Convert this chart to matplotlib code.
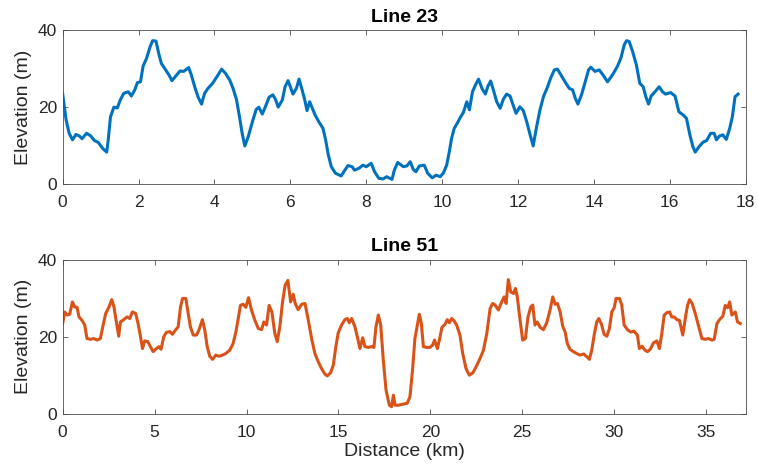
import matplotlib.pyplot as plt
import matplotlib as mpl

mpl.rcParams["font.family"] = ["Liberation Sans", "DejaVu Sans"]

# Line 23 profile
d23 = [0.00, 0.09, 0.17, 0.26, 0.35, 0.44, 0.51, 0.63, 0.74, 0.84, 0.94, 1.05, 1.16, 1.20,
       1.26, 1.35, 1.44, 1.52, 1.61, 1.73, 1.81, 1.90, 1.97, 2.05, 2.12, 2.21, 2.30, 2.37,
       2.46, 2.53, 2.60, 2.70, 2.80, 2.88, 2.98, 3.09, 3.19, 3.32, 3.39, 3.48, 3.57, 3.66,
       3.74, 3.83, 3.95, 4.07, 4.19, 4.29, 4.40, 4.49, 4.58, 4.66, 4.73, 4.80, 4.89, 5.00,
       5.10, 5.17, 5.26, 5.35, 5.44, 5.54, 5.61, 5.68, 5.79, 5.86, 5.94, 6.00, 6.07, 6.16,
       6.23, 6.31, 6.38, 6.44, 6.51, 6.58, 6.65, 6.75, 6.86, 6.93, 7.00, 7.08, 7.19, 7.34,
       7.43, 7.52, 7.63, 7.69, 7.81, 7.91, 8.00, 8.13, 8.22, 8.33, 8.44, 8.54, 8.68, 8.74,
       8.83, 8.98, 9.07, 9.16, 9.24, 9.31, 9.40, 9.53, 9.62, 9.74, 9.84, 9.95, 10.03, 10.12,
       10.19, 10.25, 10.32, 10.41, 10.49, 10.56, 10.65, 10.72, 10.80, 10.88, 10.96, 11.05,
       11.14, 11.21, 11.28, 11.35, 11.44, 11.53, 11.61, 11.70, 11.79, 11.88, 11.95, 12.05,
       12.14, 12.23, 12.32, 12.40, 12.49, 12.58, 12.67, 12.78, 12.87, 12.96, 13.04, 13.13,
       13.24, 13.35, 13.44, 13.51, 13.58, 13.68, 13.77, 13.86, 13.92, 14.03, 14.14, 14.24,
       14.36, 14.49, 14.62, 14.71, 14.80, 14.86, 14.93, 15.02, 15.12, 15.21, 15.30, 15.37,
       15.44, 15.51, 15.61, 15.72, 15.81, 15.89, 16.02, 16.14, 16.24, 16.35, 16.44, 16.53,
       16.61, 16.67, 16.77, 16.88, 16.97, 17.08, 17.17, 17.23, 17.31, 17.40, 17.49, 17.58,
       17.65, 17.72, 17.80]
e23 = [23.4, 16.7, 13.2, 11.5, 12.9, 12.5, 11.8, 13.2, 12.5, 11.3, 10.8, 9.3, 8.3, 11.5,
       17.5, 20.0, 19.8, 21.9, 23.6, 24.0, 22.9, 24.5, 26.4, 26.6, 30.7, 32.7, 35.6, 37.3,
       37.2, 34.0, 31.4, 29.9, 28.4, 26.9, 28.1, 29.4, 29.3, 30.3, 28.4, 25.3, 22.6, 20.8,
       23.6, 24.9, 26.2, 28.0, 29.9, 28.8, 27.1, 24.9, 22.0, 17.5, 13.2, 9.9, 12.3, 16.2,
       19.4, 20.0, 18.2, 20.3, 22.6, 23.2, 22.0, 20.0, 21.9, 25.3, 26.9, 25.3, 23.4, 24.9,
       27.3, 24.5, 21.9, 19.1, 21.4, 19.7, 18.0, 16.2, 14.5, 11.5, 7.6, 4.5, 2.8, 2.1,
       3.5, 4.8, 4.5, 3.6, 4.1, 4.9, 4.5, 5.4, 3.2, 1.5, 1.3, 1.9, 1.2, 3.6,
       5.6, 4.5, 4.7, 5.8, 3.8, 3.2, 4.7, 4.9, 2.8, 1.6, 2.3, 1.9, 2.8, 4.9,
       8.4, 11.9, 14.5, 16.0, 17.5, 18.6, 21.4, 19.3, 24.0, 25.8, 27.3, 24.9,
       23.4, 25.5, 26.8, 24.5, 21.4, 19.7, 22.0, 23.4, 22.9, 20.3, 18.4, 20.1,
       19.1, 16.2, 12.8, 9.9, 14.9, 19.3, 22.7, 25.3, 27.8, 29.7, 29.9, 28.4,
       26.6, 24.9, 24.5, 22.3, 20.8, 23.4, 26.6, 29.7, 30.4, 29.3, 29.7, 28.4,
       26.6, 28.4, 30.6, 32.7, 36.2, 37.3, 37.1, 34.5, 31.0, 26.2, 25.3, 22.7,
       20.8, 22.9, 24.0, 25.3, 24.0, 23.4, 23.8, 22.9, 18.8, 18.0, 17.1, 12.8,
       9.7, 8.3, 9.7, 10.9, 11.3, 13.2, 13.2, 11.5, 12.5, 12.8, 11.6, 14.5,
       17.5, 22.7, 23.4]

# Line 51 profile
d51 = [0.00, 0.11, 0.24, 0.38, 0.53, 0.65, 0.78, 0.89, 1.07, 1.20, 1.32, 1.51, 1.69, 1.87,
       2.05, 2.20, 2.34, 2.52, 2.67, 2.79, 2.92, 3.05, 3.14, 3.32, 3.50, 3.65, 3.79, 3.97,
       4.10, 4.23, 4.34, 4.46, 4.63, 4.77, 4.92, 5.10, 5.24, 5.35, 5.50, 5.64, 5.83, 5.97,
       6.15, 6.28, 6.41, 6.52, 6.70, 6.84, 6.95, 7.10, 7.28, 7.42, 7.60, 7.73, 7.86, 8.00,
       8.15, 8.33, 8.51, 8.69, 8.87, 9.09, 9.27, 9.42, 9.55, 9.67, 9.82, 9.96, 10.11, 10.27,
       10.45, 10.64, 10.82, 10.94, 11.09, 11.23, 11.38, 11.54, 11.67, 11.81, 11.96, 12.10,
       12.25, 12.40, 12.54, 12.65, 12.81, 13.00, 13.18, 13.36, 13.54, 13.72, 13.90, 14.08,
       14.26, 14.39, 14.57, 14.72, 14.86, 14.99, 15.17, 15.35, 15.48, 15.59, 15.72, 15.90,
       16.03, 16.17, 16.32, 16.44, 16.62, 16.81, 16.93, 17.04, 17.17, 17.30, 17.44, 17.59,
       17.77, 17.89, 17.99, 18.08, 18.26, 18.53, 18.74, 18.89, 19.03, 19.16, 19.29, 19.40,
       19.51, 19.62, 19.80, 19.98, 20.12, 20.23, 20.38, 20.49, 20.63, 20.80, 20.92, 21.03,
       21.16, 21.29, 21.43, 21.61, 21.76, 21.94, 22.12, 22.31, 22.49, 22.70, 22.89, 23.07,
       23.25, 23.39, 23.52, 23.70, 23.88, 24.01, 24.12, 24.24, 24.37, 24.52, 24.63, 24.73,
       24.88, 25.02, 25.17, 25.31, 25.46, 25.57, 25.69, 25.82, 25.97, 26.15, 26.33, 26.51,
       26.66, 26.79, 26.91, 27.06, 27.20, 27.33, 27.45, 27.60, 27.78, 27.96, 28.14, 28.33,
       28.51, 28.65, 28.78, 28.91, 29.05, 29.16, 29.31, 29.45, 29.60, 29.74, 29.87, 30.00,
       30.10, 30.29, 30.41, 30.54, 30.72, 30.90, 31.08, 31.26, 31.37, 31.52, 31.67, 31.81,
       31.96, 32.14, 32.32, 32.46, 32.59, 32.72, 32.86, 33.01, 33.13, 33.26, 33.41, 33.55,
       33.73, 33.88, 33.99, 34.10, 34.24, 34.41, 34.59, 34.77, 34.95, 35.13, 35.32, 35.44,
       35.59, 35.73, 35.91, 36.04, 36.17, 36.28, 36.40, 36.59, 36.71, 36.86]
e51 = [23.4, 26.4, 25.6, 25.8, 29.0, 27.7, 27.6, 25.1, 24.1, 23.0, 19.5, 19.3, 19.5, 19.1,
       19.5, 23.0, 26.0, 27.7, 29.6, 27.7, 23.8, 20.1, 23.8, 24.4, 25.1, 24.7, 26.4, 26.0,
       23.4, 20.1, 16.9, 18.9, 18.7, 17.4, 16.1, 16.9, 17.4, 16.7, 20.0, 21.1, 21.3, 20.6,
       21.8, 22.5, 27.7, 29.9, 29.9, 25.6, 22.5, 20.4, 20.4, 21.8, 24.4, 21.7, 17.4, 14.9,
       14.1, 15.2, 14.9, 15.2, 15.6, 16.5, 18.2, 21.2, 24.7, 28.1, 28.4, 27.6, 30.1, 26.9,
       24.3, 22.1, 21.8, 23.8, 23.0, 28.1, 26.4, 20.8, 18.7, 22.5, 29.0, 33.3,
       34.6, 29.0, 31.0, 28.6, 27.0, 28.4, 28.6, 24.3, 19.5, 15.6, 13.5, 11.7,
       10.3, 9.8, 10.6, 12.6, 17.4, 21.0, 23.0, 24.4, 24.7, 23.6, 24.7, 22.5,
       19.9, 16.9, 19.7, 17.4, 17.2, 17.4, 17.2, 22.5, 25.6, 23.0, 13.9, 6.1,
       2.2, 1.8, 4.8, 2.2, 2.2, 2.5, 2.7, 4.4, 11.3, 19.5, 23.0, 25.8,
       23.4, 17.4, 17.2, 17.2, 17.8, 19.1, 16.9, 19.1, 22.4, 23.2, 24.4, 23.6,
       24.7, 24.1, 23.0, 20.4, 15.6, 11.7, 10.0, 10.6, 12.2, 14.3, 16.5, 20.8,
       27.3, 28.6, 28.2, 26.9, 29.0, 30.3, 28.6, 34.8, 31.6, 31.2, 32.5, 30.3,
       24.3, 19.1, 19.5, 25.1, 27.7, 28.2, 23.0, 23.8, 22.4, 21.8, 23.6, 26.9,
       30.3, 28.4, 28.6, 26.4, 22.7, 21.2, 18.2, 16.7, 16.1, 15.6, 15.2, 15.5,
       14.8, 14.1, 16.5, 20.4, 23.8, 24.7, 23.2, 20.6, 20.1, 22.1, 26.4, 27.5,
       29.9, 29.9, 28.2, 23.0, 21.8, 21.2, 21.4, 20.4, 16.9, 17.5, 16.5, 16.1,
       16.7, 18.4, 18.9, 16.9, 20.8, 25.6, 26.2, 26.4, 25.1, 25.1, 24.4, 24.2,
       20.4, 25.1, 28.1, 29.6, 28.6, 26.0, 22.7, 19.5, 19.3, 19.5, 19.1, 19.3,
       23.4, 24.4, 25.3, 28.1, 27.5, 29.0, 25.6, 26.4, 23.8, 23.4]

fig = plt.figure(figsize=(7.58, 4.70), dpi=100)
ax1 = fig.add_axes([0.0827, 0.6085, 0.901, 0.327])
ax2 = fig.add_axes([0.0827, 0.1198, 0.901, 0.328])

panels = [(ax1, d23, e23, "#0072BD", "Line 23", 18, range(0, 19, 2)),
          (ax2, d51, e51, "#D95319", "Line 51", 37.15, range(0, 36, 5))]

for ax, d, e, col, title, xmax, xt in panels:
    ax.plot(d, e, color=col, lw=2.2)
    ax.set_xlim(0, xmax)
    ax.set_ylim(0, 40)
    ax.set_xticks(list(xt))
    ax.set_yticks([0, 20, 40])
    ax.set_title(title, fontsize=14, fontweight="bold", pad=6, color="black")
    ax.set_ylabel("Elevation (m)", fontsize=14, color="#262626", labelpad=4)
    ax.tick_params(direction="in", length=3.5, width=0.6, top=True, right=True,
                   labelsize=12.5, labelcolor="#262626", color="#4d4d4d")
    ax.tick_params(axis="x", pad=8)
    ax.tick_params(axis="y", pad=4)
    for s in ax.spines.values():
        s.set_color("#4d4d4d")
        s.set_linewidth(0.6)

ax2.set_xlabel("Distance (km)", fontsize=14, color="#262626", labelpad=2)

fig.savefig("out.png", dpi=100)
